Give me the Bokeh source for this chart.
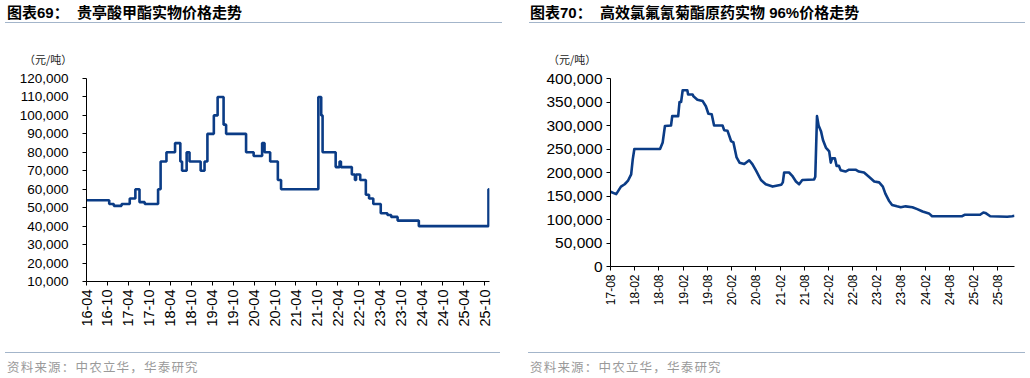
import math
import pandas as pd
from bokeh.plotting import figure
from bokeh.models import Range1d, FixedTicker, DatetimeTickFormatter, NumeralTickFormatter, Div
from bokeh.layouts import row, column
from bokeh.embed import file_html
from bokeh.resources import INLINE

# ---------------- data ----------------
left_title_prefix = "图表69："
left_title_name = "贵亭酸甲酯实物价格走势"
right_title_prefix = "图表70："
right_title_name = "高效氯氟氰菊酯原药实物 96%价格走势"
unit_text = "（元/吨）"
source_text = "资料来源：中农立华，华泰研究"

left_tick_labels = ["16-04", "16-10", "17-04", "17-10", "18-04", "18-10", "19-04", "19-10",
                    "20-04", "20-10", "21-04", "21-10", "22-04", "22-10", "23-04", "23-10",
                    "24-04", "24-10", "25-04", "25-10"]
right_tick_labels = ["17-08", "18-02", "18-08", "19-02", "19-08", "20-02", "20-08", "21-02",
                     "21-08", "22-02", "22-08", "23-02", "23-08", "24-02", "24-08", "25-02", "25-08"]
left_y_ticks = [10000, 20000, 30000, 40000, 50000, 60000, 70000, 80000, 90000, 100000, 110000, 120000]
right_y_ticks = [0, 50000, 100000, 150000, 200000, 250000, 300000, 350000, 400000]

# price change dates (step after) and prices, 贵亭酸甲酯
left_dates = ["2016-04-01", "2016-10-16", "2016-11-25", "2017-02-01", "2017-04-13", "2017-06-01",
              "2017-07-07", "2017-08-22", "2017-12-16", "2018-01-07", "2018-02-27", "2018-05-13",
              "2018-06-28", "2018-07-13", "2018-08-22", "2018-09-16", "2018-12-22", "2019-01-25",
              "2019-02-19", "2019-04-16", "2019-05-19", "2019-07-10", "2019-08-01", "2020-01-22",
              "2020-03-28", "2020-06-10", "2020-07-01", "2020-08-19", "2020-10-25", "2020-11-22",
              "2021-10-13", "2021-11-07", "2021-11-19", "2022-03-13", "2022-04-16", "2022-04-28",
              "2022-08-01", "2022-08-28", "2022-09-07", "2022-10-13", "2022-12-01", "2022-12-29",
              "2023-02-04", "2023-04-10", "2023-06-07", "2023-07-10", "2023-09-04", "2024-03-07",
              "2025-11-04", "2025-11-13"]
left_values = [54000, 52000, 51000, 52000, 55000, 60000,
               53000, 52000, 60000, 75000, 80000, 85000,
               75000, 70000, 80000, 75000, 70000, 75000,
               90000, 100000, 110000, 95000, 90000, 80000,
               78000, 85000, 80000, 75000, 65000, 60000,
               110000, 100000, 80000, 72000, 75000, 72000,
               68000, 65000, 68000, 65000, 57000, 55000,
               52000, 47000, 46000, 45000, 43000, 40000,
               60000, 60000]

# 高效氯氟氰菊酯原药 96%
right_dates = ["2017-08-01", "2017-09-13", "2017-10-19", "2017-11-16", "2017-12-10", "2018-01-04",
               "2018-01-16", "2018-01-28", "2018-08-10", "2018-08-30", "2018-09-16", "2018-11-01",
               "2018-11-10", "2018-12-25", "2019-01-04", "2019-01-16", "2019-01-28", "2019-03-04",
               "2019-03-10", "2019-04-13", "2019-04-19", "2019-05-19", "2019-06-28", "2019-07-22",
               "2019-08-10", "2019-09-04", "2019-09-22", "2019-11-25", "2019-12-07", "2020-01-01",
               "2020-01-28", "2020-02-15", "2020-03-10", "2020-04-01", "2020-05-07", "2020-06-13",
               "2020-07-07", "2020-08-04", "2020-09-10", "2020-10-16", "2020-12-07", "2021-02-10",
               "2021-02-22", "2021-03-04", "2021-04-10", "2021-05-04", "2021-06-01", "2021-06-25",
               "2021-07-19", "2021-10-16", "2021-10-25", "2021-11-07", "2021-11-19", "2021-12-07",
               "2021-12-22", "2022-01-13", "2022-02-07", "2022-02-19", "2022-03-01", "2022-03-22",
               "2022-04-04", "2022-04-22", "2022-05-04", "2022-06-10", "2022-07-07", "2022-08-25",
               "2022-09-19", "2022-10-28", "2022-12-04", "2023-01-13", "2023-02-19", "2023-03-19",
               "2023-04-07", "2023-05-04", "2023-05-28", "2023-07-04", "2023-08-01", "2023-09-07",
               "2023-10-28", "2023-12-04", "2024-01-13", "2024-03-01", "2024-03-25", "2024-11-07",
               "2024-11-25", "2025-03-22", "2025-04-16", "2025-05-01", "2025-06-07", "2025-10-13",
               "2025-11-19", "2025-12-07"]
right_values = [159000, 154000, 170000, 175000, 182000, 196000,
                228000, 250000, 250000, 264000, 299000, 300000,
                320000, 320000, 350000, 350000, 375000, 375000,
                366000, 366000, 362000, 355000, 352000, 341000,
                325000, 324000, 300000, 300000, 290000, 289000,
                267000, 264000, 232000, 221000, 218000, 226000,
                218000, 204000, 184000, 175000, 170000, 174000,
                179000, 200000, 200000, 193000, 181000, 175000,
                184000, 185000, 191000, 320000, 300000, 288000,
                269000, 253000, 245000, 221000, 230000, 230000,
                214000, 214000, 205000, 202000, 206000, 206000,
                202000, 200000, 191000, 181000, 179000, 170000,
                155000, 140000, 131000, 128000, 126000, 128000,
                126000, 122000, 117000, 113000, 107000, 107000,
                110000, 110000, 115000, 114000, 107000, 106000,
                107000, 108000]

# ---------------- style ----------------
LINE_COLOR = "#0B3C86"
RULE_COLOR = "#A3B5CA"
NUM_FONT = "Liberation Sans"
CJK_FONT = "Noto Sans CJK SC"
HEAD_H = 68


def label_to_date(s):
    return pd.Timestamp("20" + s + "-01")


def to_ms(ts):
    return (ts - pd.Timestamp("1970-01-01")) / pd.Timedelta(milliseconds=1)


def make_fig(dates, values, tick_labels, y_ticks, step, borders, xfont, yfont, ystandoff):
    d = pd.to_datetime(pd.Series(dates))
    p = figure(width=515, height=352 - HEAD_H, x_axis_type="datetime",
               x_range=Range1d(d.iloc[0], d.iloc[-1]),
               y_range=Range1d(y_ticks[0], y_ticks[-1]),
               output_backend="svg", toolbar_location=None,
               min_border_left=borders[0], min_border_right=borders[1],
               min_border_top=borders[2], min_border_bottom=borders[3],
               margin=(0, 0, 0, 0))
    if step:
        p.step(d, values, mode="after", line_color=LINE_COLOR, line_width=2.6)
    else:
        p.line(d, values, line_color=LINE_COLOR, line_width=2.6, line_join="round")
    p.outline_line_color = None
    p.xgrid.visible = False
    p.ygrid.visible = False
    p.background_fill_color = "white"
    p.border_fill_color = "white"

    xticks = [to_ms(label_to_date(s)) for s in tick_labels]
    p.xaxis.ticker = FixedTicker(ticks=xticks, minor_ticks=[])
    fmt = "%y-%m"
    p.xaxis.formatter = DatetimeTickFormatter(milliseconds=fmt, seconds=fmt, minsec=fmt, minutes=fmt,
                                              hourmin=fmt, hours=fmt, days=fmt, months=fmt, years=fmt)
    p.xaxis.major_label_orientation = math.pi / 2
    p.yaxis.ticker = FixedTicker(ticks=y_ticks, minor_ticks=[])
    p.yaxis.formatter = NumeralTickFormatter(format="0,0")
    for ax, fs in ((p.xaxis, xfont), (p.yaxis, yfont)):
        ax.axis_line_color = "#000000"
        ax.axis_line_width = 1
        ax.major_tick_line_color = "#000000"
        ax.major_tick_in = 0
        ax.major_tick_out = 4
        ax.minor_tick_line_color = None
        ax.major_label_text_font = NUM_FONT
        ax.major_label_text_font_size = fs
        ax.major_label_text_color = "#000000"
    p.xaxis.major_label_standoff = 4
    p.yaxis.major_label_standoff = ystandoff
    return p


def head_div(prefix, name, ml, w, pl, unit_left):
    html = (f'<div style="margin-left:{ml}px;width:{w}px;height:19px;padding-top:3px;'
            f'border-bottom:1.5px solid {RULE_COLOR};font-family:\'{NUM_FONT}\',\'{CJK_FONT}\';'
            f'font-weight:bold;font-size:15px;line-height:19px;color:#000;padding-left:{pl}px;'
            f'box-sizing:content-box;white-space:nowrap;">'
            f'{prefix}&nbsp;&nbsp;{name}</div>'
            f'<div style="margin-left:{unit_left}px;margin-top:29px;font-family:\'{CJK_FONT}\';'
            f'font-size:11px;line-height:14px;color:#222;white-space:nowrap;">{unit_text}</div>')
    return Div(text=html, width=515, height=HEAD_H, margin=(0, 0, 0, 0))


def footer_div(text, ml, w, pl):
    html = (f'<div style="margin-left:{ml}px;width:{w}px;border-top:1.5px solid {RULE_COLOR};'
            f'padding-top:5px;padding-left:{pl}px;font-family:\'{CJK_FONT}\';font-size:12.5px;'
            f'line-height:18px;color:#9A9A9A;letter-spacing:1.2px;white-space:nowrap;">{text}</div>')
    return Div(text=html, width=515, height=26, margin=(0, 0, 0, 0))


# left panel: frame x 86..489, y 78..281
p1 = make_fig(left_dates, left_values, left_tick_labels, left_y_ticks, True,
              (86, 26, 78 - HEAD_H, 352 - 281), "14.5px", "13.5px", 14)
# right panel: frame x 610..1014, y 78..266
p2 = make_fig(right_dates, right_values, right_tick_labels, right_y_ticks, False,
              (95, 16, 78 - HEAD_H, 352 - 266), "12px", "15.5px", 4)

left_col = column(head_div(left_title_prefix, left_title_name, 5, 495, 2, 24), p1,
                  footer_div(source_text, 5, 495, 2), spacing=0, margin=(0, 0, 0, 0))
right_col = column(head_div(right_title_prefix, right_title_name, 14, 495, 1, 33), p2,
                   footer_div(source_text, 13, 497, 2), spacing=0, margin=(0, 0, 0, 0))
layout = row(left_col, right_col, spacing=0, margin=(0, 0, 0, 0))

open("out.html", "w").write(file_html(layout, INLINE))
